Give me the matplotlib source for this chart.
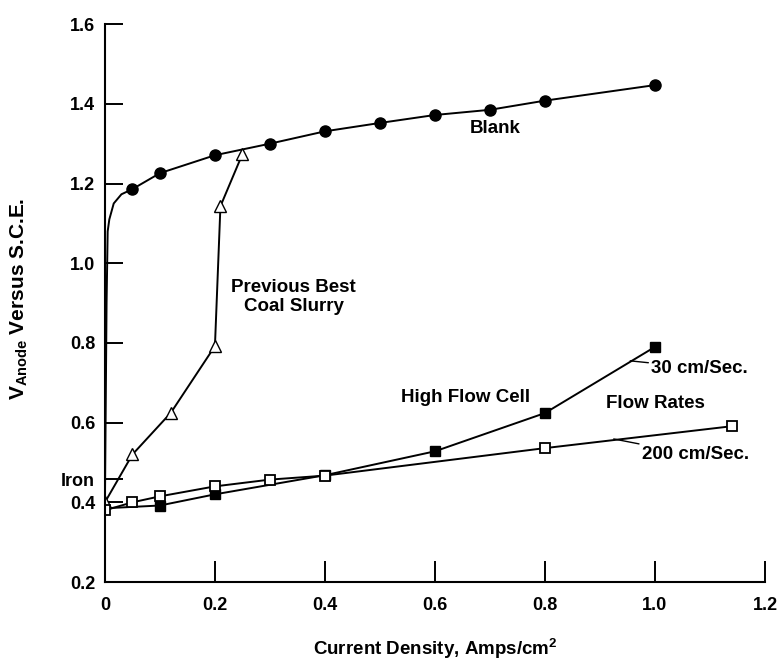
import matplotlib

matplotlib.use("Agg")
import matplotlib.pyplot as plt

plt.rcParams["font.family"] = ["Liberation Sans", "DejaVu Sans"]
plt.rcParams["font.weight"] = "bold"
plt.rcParams["mathtext.fontset"] = "custom"
plt.rcParams["mathtext.rm"] = "Liberation Sans:bold"
plt.rcParams["mathtext.bf"] = "Liberation Sans:bold"

# Blank: measured points (filled circles) plus the steep start of the curve
blank_x = [0.05, 0.10, 0.20, 0.30, 0.40, 0.50, 0.60, 0.70, 0.80, 1.00]
blank_v = [1.186, 1.226, 1.271, 1.30, 1.331, 1.352, 1.372, 1.385, 1.408, 1.447]
blank_start_x = [0.0, 0.003, 0.005, 0.008, 0.016, 0.03]
blank_start_v = [0.40, 0.90, 1.08, 1.11, 1.15, 1.173]

# Previous best coal slurry (open triangles)
slurry_x = [0.0, 0.05, 0.12, 0.20, 0.21, 0.25]
slurry_v = [0.40, 0.52, 0.625, 0.792, 1.143, 1.274]

# High flow cell, 30 cm/Sec. (filled squares)
flow30_x = [0.0, 0.10, 0.20, 0.40, 0.60, 0.80, 1.00]
flow30_v = [0.385, 0.392, 0.42, 0.468, 0.528, 0.624, 0.79]

# High flow cell, 200 cm/Sec. (open squares)
flow200_x = [0.0, 0.05, 0.10, 0.20, 0.30, 0.40, 0.80, 1.14]
flow200_v = [0.38, 0.40, 0.415, 0.44, 0.457, 0.467, 0.536, 0.591]

x_ticks = [0, 0.2, 0.4, 0.6, 0.8, 1.0, 1.2]
x_tick_labels = ["0", "0.2", "0.4", "0.6", "0.8", "1.0", "1.2"]
y_ticks = [0.2, 0.4, 0.458, 0.6, 0.8, 1.0, 1.2, 1.4, 1.6]
y_tick_labels = ["0.2", "0.4", "Iron", "0.6", "0.8", "1.0", "1.2", "1.4", "1.6"]

fig = plt.figure(figsize=(7.83, 6.61), dpi=100)
ax = fig.add_axes([0.134, 0.1195, 0.843, 0.844])

lw = 1.4
ax.plot(blank_start_x + blank_x, blank_start_v + blank_v, color="black", lw=lw)
ax.plot(blank_x, blank_v, "o", color="black", ms=8)

ax.plot(slurry_x, slurry_v, "-^", color="black", lw=lw, ms=8.5,
        markerfacecolor="white", markeredgewidth=1.0)
ax.plot(flow30_x[1:], flow30_v[1:], "s", color="black", ms=7.5)
ax.plot(flow30_x, flow30_v, "-", color="black", lw=lw)
ax.plot(flow200_x, flow200_v, "-s", color="black", lw=lw, ms=7.5,
        markerfacecolor="white", markeredgewidth=1.3)

txt = dict(fontsize=13.5, fontweight="bold", color="black")
ax.text(0.71, 1.339, "Blank", ha="center", va="center", **txt)
ax.text(0.343, 0.915, "Previous Best\nCoal Slurry", ha="center", va="center",
        linespacing=1.15, **txt)
ax.text(0.655, 0.664, "High Flow Cell", ha="center", va="center", **txt)
ax.text(0.911, 0.649, "Flow Rates", ha="left", va="center", **txt)
ax.annotate("30 cm/Sec.", xy=(0.955, 0.755), xytext=(0.993, 0.737),
            ha="left", va="center", **txt,
            arrowprops=dict(arrowstyle="-", color="black", lw=1.0,
                            shrinkA=0, shrinkB=0))
ax.annotate("200 cm/Sec.", xy=(0.925, 0.559), xytext=(0.976, 0.519),
            ha="left", va="center", **txt,
            arrowprops=dict(arrowstyle="-", color="black", lw=1.0,
                            shrinkA=0, shrinkB=0))

ax.set_xlim(0, 1.2)
ax.set_ylim(0.2, 1.6)
ax.set_xticks(x_ticks)
ax.set_xticklabels(x_tick_labels)
ax.set_yticks(y_ticks)
ax.set_yticklabels(y_tick_labels)
ax.tick_params(axis="both", direction="in", width=1.4, labelsize=13)
ax.tick_params(axis="x", length=15, pad=11)
ax.tick_params(axis="y", length=13, pad=7)
for lab in ax.get_xticklabels() + ax.get_yticklabels():
    lab.set_fontweight("bold")

for side in ["top", "right"]:
    ax.spines[side].set_visible(False)
for side in ["left", "bottom"]:
    ax.spines[side].set_linewidth(1.5)

ax.set_xlabel("Current Density, Amps/cm$^{2}$", fontsize=13.5, fontweight="bold")
ax.xaxis.set_label_coords(0.5, -0.097)
ax.set_ylabel(r"V$_{\mathrm{Anode}}$ Versus S.C.E.", fontsize=15,
              fontweight="bold")
ax.yaxis.set_label_coords(-0.114, 0.507)

fig.savefig("out.png", dpi=100)
